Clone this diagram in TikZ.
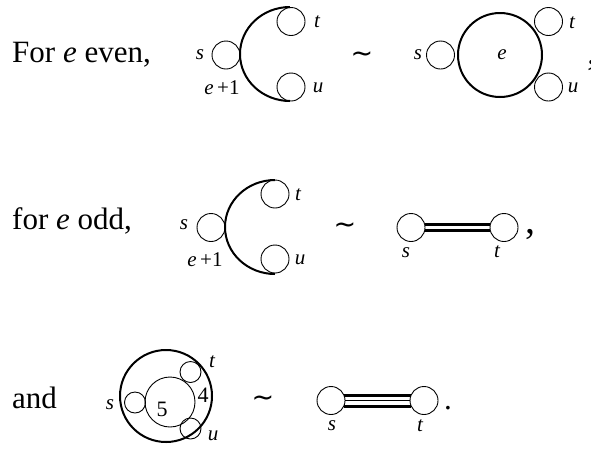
\documentclass[tikz,border=0pt]{standalone}
\usepackage{fontspec}
\setmainfont{Liberation Serif}
\newfontfamily\tildefont{DejaVu Sans}
\pgfdeclarelayer{bg}
\pgfsetlayers{bg,main}
\begin{document}
\begin{tikzpicture}[x=1pt,y=-1pt,
  sm/.style={circle,draw,line width=0.9pt,inner sep=0pt,minimum size=28pt},
  tiny/.style={circle,draw,line width=0.9pt,inner sep=0pt,minimum size=21pt},
  big/.style={circle,draw,line width=2pt,inner sep=0pt},
  mid/.style={circle,draw,line width=0.9pt,inner sep=0pt},
  bigarc/.style={line width=2pt},
  lbl/.style={inner sep=0pt,font=\fontsize{21}{21}\selectfont\itshape},
  num/.style={inner sep=0pt,font=\fontsize{22}{22}\selectfont},
  txt/.style={inner sep=0pt,anchor=base west,font=\fontsize{31}{31}\selectfont},
  punct/.style={inner sep=0pt,anchor=base west,font=\fontsize{40}{40}\selectfont},
  rel/.style={inner sep=0pt,font=\fontsize{27}{27}\selectfont\tildefont},
  dbl/.style={line width=3.2pt,double distance=2.6pt,double=white},
  trpl/.style={line width=3pt,double distance=8pt,double=white},
  thinline/.style={line width=0.5pt}
]
\useasboundingbox (0,0) rectangle (591,448);

% ---------- row 1 ----------
\node[txt] (r1) at (12,62) {For \textit{e} even,};
\node[sm] (s1) at (226,55) {};
\node[sm] (t1) at (291,21.5) {};
\node[sm] (u1) at (291,87) {};
\draw[bigarc] (290,7) arc[start angle=90,end angle=270,x radius=50pt,y radius=47pt];
\node[lbl] (ls1) at (200,55) {s};
\node[lbl] (lt1) at (317,22) {t};
\node[lbl] (lu1) at (318,88) {u};
\node[lbl] (le1) at (222,88) {e\,\upshape+1};
\node[rel] (sim1) at (362,57) {∼};

\node[sm] (s2) at (440.5,55) {};
\node[big,minimum size=84pt] (e2) at (500,55) {};
\node[sm] (t2) at (548.5,21.5) {};
\node[sm] (u2) at (548.5,87) {};
\node[lbl] (le2) at (502,55) {e};
\node[lbl] (ls2) at (418,55) {s};
\node[lbl] (lt2) at (572,23) {t};
\node[lbl] (lu2) at (573,88) {u};
\node[punct] (c1) at (587.5,64) {,};

% ---------- row 2 ----------
\node[txt] (r2) at (12,229.5) {for \textit{e} odd,};
\node[sm] (s3) at (211,227.5) {};
\node[sm] (t3) at (275,194) {};
\node[sm] (u3) at (275,259) {};
\draw[bigarc] (275,180) arc[start angle=90,end angle=270,x radius=50pt,y radius=47pt];
\node[lbl] (ls3) at (184,225) {s};
\node[lbl] (lt3) at (298,195) {t};
\node[lbl] (lu3) at (300,260) {u};
\node[lbl] (le3) at (205,260) {e\,\upshape+1};
\node[rel] (sim2) at (345,228) {∼};

\node[sm] (s4) at (411,227.5) {};
\node[sm] (t4) at (504,227.5) {};
\begin{pgfonlayer}{bg}
\draw[dbl] (s4) -- (t4);
\end{pgfonlayer}
\node[lbl] (ls4) at (406,253) {s};
\node[lbl] (lt4) at (497,252) {t};
\node[punct] (c2) at (525,233) {,};

% ---------- row 3 ----------
\node[txt] (r3) at (12,408) {and};
\node[big,minimum size=92pt] (o3) at (166,396) {};
\node[mid,minimum size=50pt] (i3) at (170,402) {};
\node[tiny] (s5a) at (135,402.5) {};
\node[tiny] (t5a) at (190.5,372) {};
\node[tiny] (u5a) at (190.5,428.5) {};
\node[lbl] (ls5a) at (110,405) {s};
\node[num] (l5) at (162,409) {5};
\node[num] (l4) at (203,395) {4};
\node[lbl] (lt5a) at (212,362) {t};
\node[lbl] (lu5a) at (213,436) {u};
\node[rel] (sim3) at (263,401) {∼};

\node[sm] (s5) at (331,400.5) {};
\node[sm] (t5) at (424,400.5) {};
\begin{pgfonlayer}{bg}
\draw[trpl,shorten <=-1.5pt,shorten >=-1.5pt] (s5) -- (t5);
\draw[thinline] (s5) -- (t5);
\end{pgfonlayer}
\node[lbl] (ls5) at (332,426) {s};
\node[lbl] (lt5) at (420,426) {t};
\node[txt] (p3) at (444,409) {.};
\end{tikzpicture}
\end{document}
